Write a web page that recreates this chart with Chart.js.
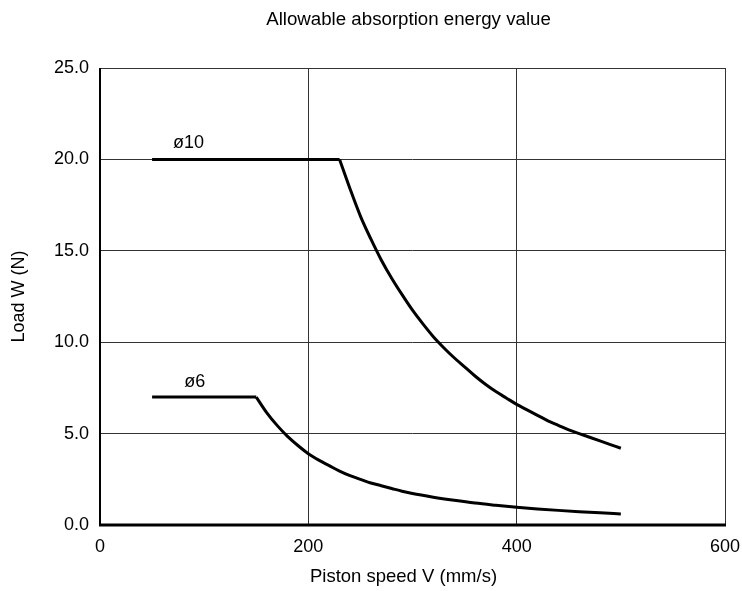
<!DOCTYPE html>
<html>
<head>
<meta charset="utf-8">
<script src="https://cdn.jsdelivr.net/npm/chart.js@4"></script>
<style>
  html,body{margin:0;padding:0;background:#fff;}
  #wrap{width:742px;height:591px;}
</style>
</head>
<body>
<div id="wrap"><canvas id="chart"></canvas></div>
<script>
// values (first two points are the flat part)
const speed10 = [50, 230, 240, 250, 260, 270, 280, 290, 300, 310, 320, 330, 340, 350, 360, 370, 380, 390, 400, 410, 420, 430, 440, 450, 460, 470, 480, 490, 500];
const load10  = [20, 20, 18.4, 16.9, 15.65, 14.5, 13.5, 12.6, 11.75, 11.0, 10.3, 9.7, 9.15, 8.65, 8.15, 7.7, 7.3, 6.95, 6.6, 6.3, 6.0, 5.7, 5.45, 5.2, 5.0, 4.8, 4.6, 4.4, 4.2];
const speed6 = [50, 150, 160, 170, 180, 190, 200, 210, 220, 230, 240, 250, 260, 270, 280, 290, 300, 320, 340, 360, 380, 400, 420, 440, 460, 480, 500];
const load6  = [7, 7, 6.15, 5.45, 4.85, 4.35, 3.9, 3.55, 3.25, 2.95, 2.7, 2.5, 2.3, 2.15, 2.0, 1.85, 1.72, 1.52, 1.35, 1.2, 1.08, 0.97, 0.88, 0.8, 0.73, 0.67, 0.6];
const seriesNames = ['ø10', 'ø6'];
const labelPos = [[85, 20.9], [91, 7.8]];
const titleText = 'Allowable absorption energy value';
const xTitle = 'Piston speed V (mm/s)';
const yTitle = 'Load W (N)';

const FONT = 'Liberation Sans, Arial, Helvetica, sans-serif';
const toPts = (xs, ys) => xs.map((x, i) => ({x, y: ys[i]}));

// title and x axis title, series name labels in data coordinates
const texts = {
  id: 'texts',
  afterDatasetsDraw(chart){
    const {ctx, chartArea:a, scales:{x, y}} = chart;
    ctx.save();
    ctx.fillStyle = '#000';
    ctx.textAlign = 'center';
    ctx.textBaseline = 'middle';
    ctx.font = '18.7px ' + FONT;
    ctx.fillText(titleText, (a.left + a.right) / 2 - 4, 20);
    ctx.font = '18.5px ' + FONT;
    ctx.fillText(xTitle, (a.left + a.right) / 2 - 9, 577);
    ctx.font = '18px ' + FONT;
    seriesNames.forEach((n, i) => {
      ctx.fillText(n, x.getPixelForValue(labelPos[i][0]), y.getPixelForValue(labelPos[i][1]));
    });
    ctx.restore();
  }
};

// frame: thick left/bottom axis, thin top/right
const frame = {
  id: 'frame',
  afterDatasetsDraw(chart){
    const {ctx, chartArea:a} = chart;
    ctx.save();
    ctx.strokeStyle = '#333';
    ctx.lineWidth = 1;
    ctx.beginPath();
    ctx.moveTo(a.left, a.top + 0.5); ctx.lineTo(a.right + 0.5, a.top + 0.5); ctx.lineTo(a.right + 0.5, a.bottom);
    ctx.stroke();
    ctx.strokeStyle = '#000';
    ctx.lineWidth = 2;
    ctx.beginPath(); ctx.moveTo(a.left, a.top); ctx.lineTo(a.left, a.bottom); ctx.stroke();
    ctx.lineWidth = 3;
    ctx.beginPath(); ctx.moveTo(a.left - 1, a.bottom); ctx.lineTo(a.right + 1, a.bottom); ctx.stroke();
    ctx.restore();
  }
};

const pts10 = toPts(speed10, load10), pts6 = toPts(speed6, load6);
const lineStyle = { borderColor: '#000', borderWidth: 3, pointRadius: 0, fill: false };

new Chart(document.getElementById('chart'), {
  type: 'line',
  data: {
    datasets: [
      { label: seriesNames[0], data: pts10.slice(0, 2), tension: 0, ...lineStyle },
      { label: seriesNames[0], data: pts10.slice(1), cubicInterpolationMode: 'monotone', ...lineStyle },
      { label: seriesNames[1], data: pts6.slice(0, 2), tension: 0, ...lineStyle },
      { label: seriesNames[1], data: pts6.slice(1), cubicInterpolationMode: 'monotone', ...lineStyle }
    ]
  },
  options: {
    responsive: true,
    maintainAspectRatio: false,
    animation: false,
    layout: { padding: { top: 68, right: 17, bottom: 0, left: 0 } },
    plugins: {
      legend: { display: false },
      tooltip: { enabled: false },
      title: { display: false }
    },
    scales: {
      x: {
        type: 'linear', min: 0, max: 600,
        afterFit(s){ s.height = 66; s.paddingLeft = 0; s.paddingRight = 0; },
        border: { display: false },
        grid: { color: '#333', lineWidth: 1, drawTicks: false },
        ticks: { stepSize: 200, color: '#000', padding: 11, font: { family: FONT, size: 18 } },
        title: { display: false }
      },
      y: {
        type: 'linear', min: 0, max: 25,
        afterFit(s){ s.width = 100; s.paddingTop = 0; s.paddingBottom = 0; },
        border: { display: false },
        grid: { color: '#333', lineWidth: 1, drawTicks: false },
        ticks: { stepSize: 5, color: '#000', padding: 11, font: { family: FONT, size: 18 }, callback: v => v.toFixed(1) },
        title: { display: true, text: yTitle, color: '#000', font: { family: FONT, size: 18 }, padding: { top: 8, bottom: 8 } }
      }
    }
  },
  plugins: [frame, texts]
});
</script>
</body>
</html>
